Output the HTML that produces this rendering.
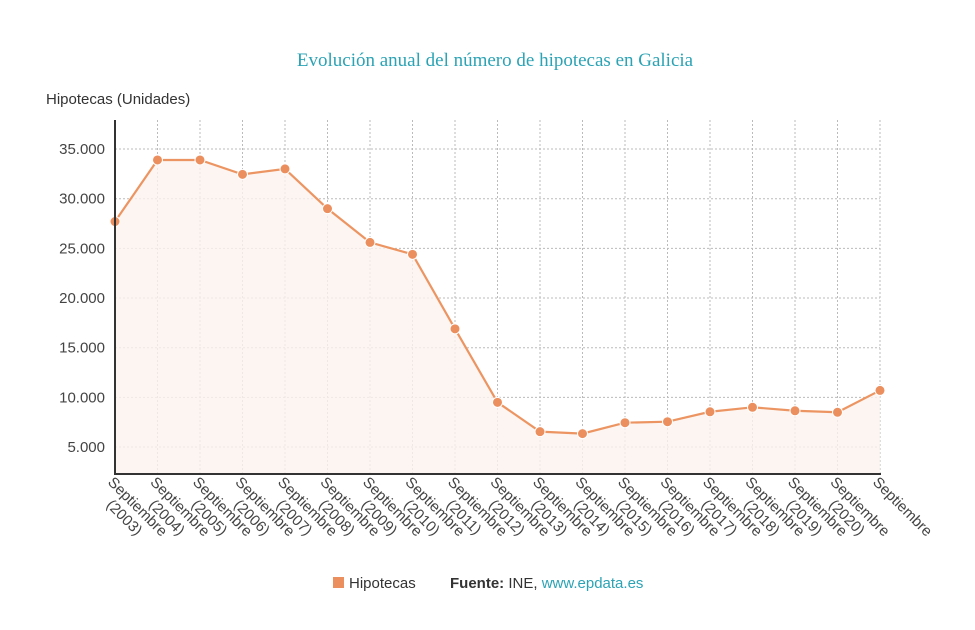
<!DOCTYPE html>
<html><head><meta charset="utf-8"><style>
body{margin:0;background:#fff;width:975px;height:625px;overflow:hidden;font-family:"Liberation Sans",sans-serif}
</style></head><body>
<svg width="975" height="625">
<text x="495" y="66" text-anchor="middle" font-family="Liberation Serif,serif" font-size="19" fill="#2ba3b5">Evolución anual del número de hipotecas en Galicia</text>
<text x="46" y="104" font-size="15" fill="#333">Hipotecas (Unidades)</text>
<g id="grid"></g><g id="area"></g><g id="line"></g><g id="pts"></g><g id="yt"></g><g id="xt"></g>
<line x1="115" y1="120" x2="115" y2="474" stroke="#333" stroke-width="2"/>
<line x1="114" y1="474" x2="881" y2="474" stroke="#333" stroke-width="2"/>
<rect x="333" y="577" width="11" height="11" fill="#ec8f5e"/>
<text x="349" y="588" font-size="15" fill="#333">Hipotecas</text>
<text x="450" y="588" font-size="15" fill="#333"><tspan font-weight="bold">Fuente:</tspan> INE, <tspan fill="#2ba3b5">www.epdata.es</tspan></text>
</svg>
<script>
const years=["2003","2004","2005","2006","2007","2008","2009","2010","2011","2012","2013","2014","2015","2016","2017","2018","2019","2020",""];
const values=[27700,33900,33900,32450,33000,29000,25600,24400,16900,9500,6550,6350,7450,7550,8550,9000,8650,8500,10700];
const yTicks=[5000,10000,15000,20000,25000,30000,35000];
const NS="http://www.w3.org/2000/svg";
const X=i=>115+i*(765/(values.length-1));
const Y=v=>496.7-v*0.009933;
function mk(t,a,p){const e=document.createElementNS(NS,t);for(const k in a)e.setAttribute(k,a[k]);document.getElementById(p).appendChild(e);return e;}
yTicks.forEach(v=>{
 const g=mk("line",{x1:115,x2:880,y1:Y(v),y2:Y(v),stroke:"#bbb","stroke-dasharray":"2,2"},"grid");
 
 
 const t=mk("text",{x:105,y:Y(v)+5,"text-anchor":"end","font-size":"15",fill:"#444"},"yt");
 t.textContent=v.toLocaleString("de-DE");
 
 
});
values.forEach((v,i)=>{
 const x=X(i);
 if(i>0){const g=mk("line",{x1:x,x2:x,y1:120,y2:474,stroke:"#bbb","stroke-dasharray":"2,2"},"grid");
 
 }
 const t=mk("text",{transform:`translate(${x-8},483) rotate(45)`,"font-size":"15",fill:"#444"},"xt");
 
 
 const a=document.createElementNS(NS,"tspan");a.setAttribute("x",0);a.setAttribute("y",0);a.textContent="Septiembre";t.appendChild(a);
 if(years[i]){const b=document.createElementNS(NS,"tspan");b.setAttribute("x",15);b.setAttribute("y",17);b.textContent="("+years[i]+")";t.appendChild(b);}
});
let d=values.map((v,i)=>(i?"L":"M")+X(i)+","+Y(v)).join("");
const ar=mk("path",{d:d+`L${X(values.length-1)},474L115,474Z`,fill:"#fdf3ee",opacity:"0.8"},"area");


const ln=mk("path",{d:d,fill:"none",stroke:"#ec9562","stroke-width":"2.2"},"line");


values.forEach((v,i)=>{
 const c=mk("circle",{cx:X(i),cy:Y(v),r:5,fill:"#ec8f5e",stroke:"#fff","stroke-width":"1"},"pts");
 
 
});
</script>
</body></html>
